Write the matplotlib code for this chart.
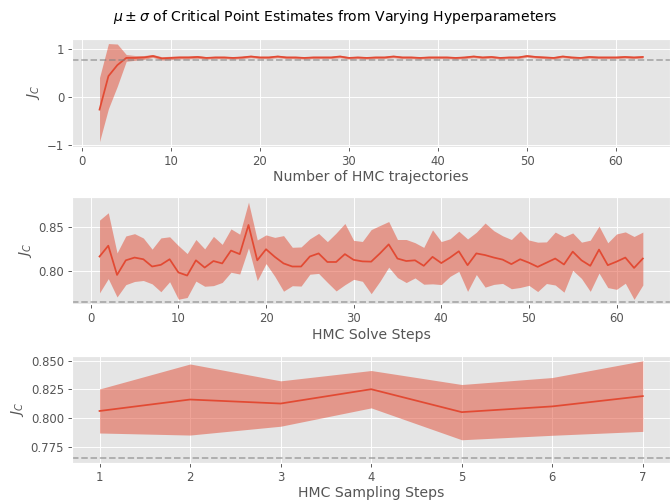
import numpy as np
import matplotlib
matplotlib.use("Agg")
import matplotlib.pyplot as plt

plt.style.use("ggplot")

# critical point value (dashed reference line)
jc_true = 0.765

# panel 1: number of HMC trajectories
traj_x = list(range(2, 64))
traj_mean = [-0.27, 0.43, 0.66, 0.81, 0.81, 0.82, 0.85, 0.80, 0.81, 0.82,
             0.82, 0.83, 0.81, 0.82, 0.82, 0.81, 0.82, 0.84, 0.82, 0.82,
             0.84, 0.82, 0.82, 0.81, 0.82, 0.82, 0.82, 0.84, 0.81, 0.82,
             0.81, 0.82, 0.82, 0.84, 0.82, 0.82, 0.81, 0.82, 0.82, 0.82,
             0.81, 0.82, 0.84, 0.82, 0.83, 0.81, 0.82, 0.82, 0.85, 0.83,
             0.82, 0.81, 0.84, 0.82, 0.81, 0.83, 0.82, 0.82, 0.82, 0.83,
             0.82, 0.83]
traj_std = [0.67, 0.68, 0.44, 0.07, 0.05, 0.04, 0.03, 0.035, 0.035, 0.03,
            0.03, 0.03, 0.025, 0.025, 0.025, 0.025, 0.025, 0.025, 0.025, 0.025,
            0.025, 0.025, 0.025, 0.025, 0.025, 0.025, 0.025, 0.025, 0.025, 0.025,
            0.025, 0.025, 0.025, 0.025, 0.025, 0.025, 0.025, 0.025, 0.025, 0.025,
            0.025, 0.025, 0.025, 0.025, 0.025, 0.025, 0.025, 0.025, 0.025, 0.025,
            0.025, 0.025, 0.025, 0.025, 0.025, 0.025, 0.025, 0.025, 0.025, 0.025,
            0.025, 0.025]

# panel 2: HMC solve steps
solve_x = list(range(1, 64))
solve_mean = [0.8168, 0.829, 0.796, 0.8125, 0.8156, 0.8137, 0.8055, 0.8074, 0.8137, 0.7988,
              0.7953, 0.8125, 0.8043, 0.8117, 0.809, 0.8235, 0.8195, 0.8524, 0.8125, 0.825,
              0.8164, 0.809, 0.8055, 0.8055, 0.8168, 0.8203, 0.8106, 0.8106, 0.8195, 0.813,
              0.8113, 0.811, 0.8203, 0.8305, 0.8145, 0.8117, 0.8125, 0.8063, 0.8164, 0.8094,
              0.8156, 0.8227, 0.807, 0.8203, 0.8184, 0.8156, 0.8133, 0.8082, 0.8137, 0.8098,
              0.8051, 0.8098, 0.8145, 0.8078, 0.8223, 0.8125, 0.8063, 0.8246, 0.807, 0.811,
              0.8156, 0.8039, 0.8145]
solve_std = [0.0411, 0.0372, 0.0249, 0.0275, 0.027, 0.024, 0.0196, 0.0304, 0.0254, 0.0303,
             0.0248, 0.0235, 0.0211, 0.0278, 0.0215, 0.0245, 0.0225, 0.0258, 0.023, 0.0162,
             0.022, 0.0314, 0.0217, 0.0221, 0.020, 0.0226, 0.023, 0.0327, 0.0346, 0.022,
             0.0225, 0.0362, 0.0315, 0.0258, 0.0215, 0.0243, 0.0199, 0.0208, 0.0305, 0.0243,
             0.0212, 0.0227, 0.0296, 0.0239, 0.0362, 0.0303, 0.0269, 0.0278, 0.0319, 0.0256,
             0.0279, 0.0235, 0.0299, 0.0313, 0.0211, 0.0205, 0.0289, 0.0265, 0.0253, 0.0313,
             0.029, 0.0355, 0.0299]

# panel 3: HMC sampling steps
samp_x = [1, 2, 3, 4, 5, 6, 7]
samp_mean = [0.806, 0.816, 0.8125, 0.825, 0.805, 0.810, 0.819]
samp_std = [0.0192, 0.031, 0.0198, 0.0163, 0.0241, 0.0252, 0.0308]

panels = [
    (traj_x, traj_mean, traj_std, "Number of HMC trajectories"),
    (solve_x, solve_mean, solve_std, "HMC Solve Steps"),
    (samp_x, samp_mean, samp_std, "HMC Sampling Steps"),
]

dpi = 84
fig = plt.figure(figsize=(670 / dpi, 502 / dpi), dpi=dpi)
boxes = [[0.108, 0.708, 0.892, 0.215],
         [0.108, 0.394, 0.892, 0.213],
         [0.108, 0.078, 0.892, 0.213]]

for box, (x, m, s, lab) in zip(boxes, panels):
    ax = fig.add_axes(box)
    m = np.array(m)
    s = np.array(s)
    ax.plot(x, m, color="#E24A33", lw=1.5)
    ax.fill_between(x, m - s, m + s, color="#E24A33", alpha=0.5, lw=0)
    ax.axhline(jc_true, color="gray", ls="--", alpha=0.6, lw=1.5)
    ax.set_xlabel(lab, labelpad=2)
    ax.set_ylabel("$J_C$")

fig.suptitle(r"$\mu \pm \sigma$ of Critical Point Estimates from Varying Hyperparameters",
             y=0.985, fontsize=12)

fig.savefig("out.png", dpi=dpi)
